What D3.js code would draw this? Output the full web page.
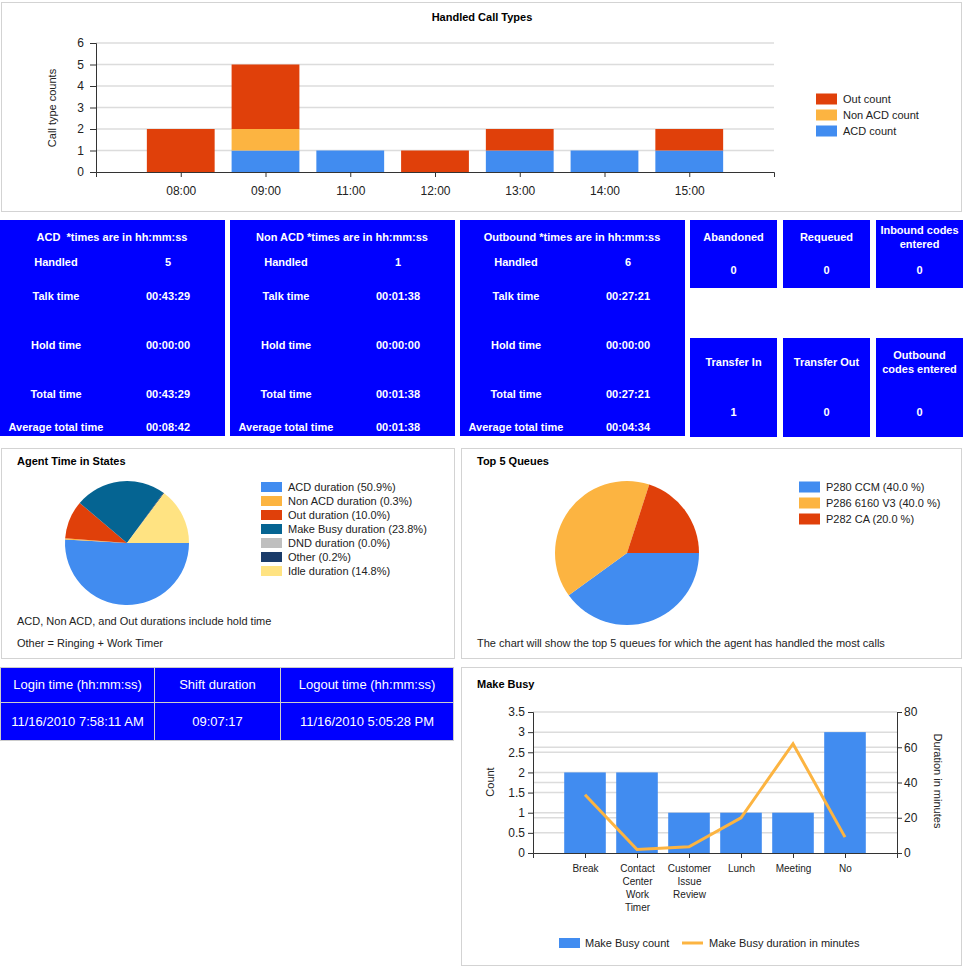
<!DOCTYPE html>
<html>
<head>
<meta charset="utf-8">
<script src="https://cdn.jsdelivr.net/npm/d3@7"></script>
<style>
    body { margin: 0; background: #fff; }
    svg { display: block; font-family: "Liberation Sans", Arial, sans-serif; }
</style>
</head>
<body>
<svg id="dash"></svg>
<script>
// handled call types (stacked)
const hours = ['08:00', '09:00', '11:00', '12:00', '13:00', '14:00', '15:00'];
const acdCount = [0, 1, 1, 0, 1, 1, 1];
const nonAcdCount = [0, 1, 0, 0, 0, 0, 0];
const outCount = [2, 3, 0, 1, 1, 0, 1];
const callTicks = [0, 1, 2, 3, 4, 5, 6];

// blue stat boxes
const statRows = ['Handled', 'Talk time', 'Hold time', 'Total time', 'Average total time'];
const statTitles = ['ACD  *times are in hh:mm:ss', 'Non ACD *times are in hh:mm:ss', 'Outbound *times are in hh:mm:ss'];
const acdStats = ['5', '00:43:29', '00:00:00', '00:43:29', '00:08:42'];
const nonAcdStats = ['1', '00:01:38', '00:00:00', '00:01:38', '00:01:38'];
const outStats = ['6', '00:27:21', '00:00:00', '00:27:21', '00:04:34'];
const tileTopNames = ['Abandoned', 'Requeued', 'Inbound codes entered'];
const tileTopValues = [0, 0, 0];
const tileBottomNames = ['Transfer In', 'Transfer Out', 'Outbound codes entered'];
const tileBottomValues = [1, 0, 0];

// agent time in states
const stateNames = ['ACD duration', 'Non ACD duration', 'Out duration', 'Make Busy duration', 'DND duration', 'Other', 'Idle duration'];
const statePct = [50.9, 0.3, 10.0, 23.8, 0.0, 0.2, 14.8];

// top 5 queues
const queueNames = ['P280 CCM', 'P286 6160 V3', 'P282 CA'];
const queuePct = [40.0, 40.0, 20.0];

// shift table
const shiftHeaders = ['Login time (hh:mm:ss)', 'Shift duration', 'Logout time (hh:mm:ss)'];
const shiftValues = ['11/16/2010 7:58:11 AM', '09:07:17', '11/16/2010 5:05:28 PM'];

// make busy
const reasons = ['Break', 'Contact Center Work Timer', 'Customer Issue Review', 'Lunch', 'Meeting', 'No'];
const busyCount = [2, 2, 1, 1, 1, 3];
const busyMinutes = [33, 2, 3.5, 20, 62, 9];
const countTicks = [0, 0.5, 1, 1.5, 2, 2.5, 3, 3.5];
const minuteTicks = [0, 20, 40, 60, 80];

const palette = ['#418CF0', '#FCB441', '#E0400A', '#056492', '#BFBFBF', '#1A3B69', '#FFE382'];
const blue = '#0000FF';

let svg = d3.select('#dash').attr('width', 964).attr('height', 966);

function panel(x, y, w, h) {
    svg.append('rect')
        .attr('x', x + 0.5).attr('y', y + 0.5)
        .attr('width', w).attr('height', h)
        .attr('fill', '#fff').attr('stroke', '#d3d3d3');
}

// split a label into lines no wider than maxW
// (text uses a central baseline, so the block is shifted up when data-center is set)
function wrap(sel, maxW) {
    sel.each(function () {
        let t = d3.select(this);
        let words = t.text().split(' ');
        let lh = +t.attr('data-lh');
        t.text(null);
        let lines = [], cur = [];
        let probe = t.append('tspan');
        words.forEach(w => {
            probe.text(cur.concat(w).join(' '));
            if (cur.length && probe.node().getComputedTextLength() > maxW) {
                lines.push(cur.join(' '));
                cur = [w];
            } else {
                cur.push(w);
            }
        });
        lines.push(cur.join(' '));
        probe.remove();
        let off = t.attr('data-center') ? -(lines.length - 1) * lh / 2 : 0;
        lines.forEach((l, i) => {
            t.append('tspan').attr('x', t.attr('x')).attr('dy', i === 0 ? off : lh).text(l);
        });
    });
}

function callTypes() {
    panel(1, 2, 960, 209);
    svg.append('text')
        .attr('x', 482).attr('y', 17).attr('dy', '0.35em')
        .attr('text-anchor', 'middle').attr('font-size', 11).attr('font-weight', 'bold')
        .text('Handled Call Types');

    let scX = d3.scalePoint().domain(hours).range([96, 774]).padding(1);
    let scY = d3.scaleLinear().domain([0, 6]).range([172, 43]);

    let g = svg.append('g');
    g.selectAll('line.grid')
        .data(callTicks.slice(1)).enter().append('line')
        .attr('x1', 96).attr('x2', 774)
        .attr('y1', d => scY(d)).attr('y2', d => scY(d))
        .attr('stroke', '#dcdcdc').attr('stroke-width', 1.5);

    let rows = hours.map((h, i) => ({hour: h, acd: acdCount[i], non: nonAcdCount[i], out: outCount[i]}));
    let keys = ['acd', 'non', 'out'];
    let colors = {acd: palette[0], non: palette[1], out: palette[2]};
    let stacked = d3.stack().keys(keys)(rows);
    let bw = scX.step() * 0.8;

    g.selectAll('g.layer')
        .data(stacked).enter().append('g')
        .attr('fill', d => colors[d.key])
        .selectAll('rect')
        .data(d => d.filter(p => p[1] > p[0])).enter().append('rect')
        .attr('x', d => scX(d.data.hour) - bw / 2)
        .attr('width', bw)
        .attr('y', d => scY(d[1]))
        .attr('height', d => scY(d[0]) - scY(d[1]));

    let ax = svg.append('g').attr('transform', 'translate(96,0)')
        .call(d3.axisLeft(scY).tickValues(callTicks).tickFormat(d3.format('d')).tickSize(6).tickPadding(6));
    let bx = svg.append('g').attr('transform', 'translate(0,172)')
        .call(d3.axisBottom(scX).tickSize(5).tickPadding(9));
    [ax, bx].forEach(a => {
        a.attr('font-family', null).attr('font-size', 12);
        a.selectAll('path,line').attr('stroke', '#333');
        a.selectAll('text').attr('fill', '#222');
    });

    svg.append('text')
        .attr('transform', 'translate(56,108) rotate(-90)')
        .attr('text-anchor', 'middle').attr('font-size', 11).attr('fill', '#222')
        .text('Call type counts');

    let legend = [['Out count', colors.out], ['Non ACD count', colors.non], ['ACD count', colors.acd]];
    let lg = svg.selectAll('g.leg1')
        .data(legend).enter().append('g')
        .attr('transform', (d, i) => `translate(816,${99 + i * 16})`);
    lg.append('rect').attr('x', 0).attr('y', -5.5).attr('width', 21).attr('height', 11).attr('fill', d => d[1]);
    lg.append('text').attr('x', 27).attr('dy', '0.35em').attr('font-size', 11).attr('fill', '#222').text(d => d[0]);
}

function statBoxes() {
    let sets = [acdStats, nonAcdStats, outStats];
    let boxX = [0, 230, 460];
    let rowY = [262, 296, 345, 394, 427];

    sets.forEach((vals, k) => {
        let g = svg.append('g').attr('transform', `translate(${boxX[k]},220)`)
            .attr('fill', '#fff').attr('font-size', 11).attr('font-weight', 'bold')
            .attr('text-anchor', 'middle');
        g.append('rect').attr('width', 225).attr('height', 216).attr('fill', blue);
        g.append('text').attr('x', 112).attr('y', 17).attr('dy', '0.35em')
            .style('white-space', 'pre')
            .text(statTitles[k]);
        g.selectAll('text.lab')
            .data(statRows).enter().append('text')
            .attr('x', 56).attr('y', (d, i) => rowY[i] - 220).attr('dy', '0.35em')
            .text(d => d);
        g.selectAll('text.val')
            .data(vals).enter().append('text')
            .attr('x', 168).attr('y', (d, i) => rowY[i] - 220).attr('dy', '0.35em')
            .text(d => d);
    });

    let tileX = [690, 783, 876];
    function tiles(names, values, y, h, titleY, valueY) {
        names.forEach((name, i) => {
            let g = svg.append('g').attr('transform', `translate(${tileX[i]},${y})`)
                .attr('fill', '#fff').attr('font-size', 11).attr('font-weight', 'bold')
                .attr('text-anchor', 'middle');
            g.append('rect').attr('width', 87).attr('height', h).attr('fill', blue);
            g.append('text')
                .attr('x', 43.5).attr('y', titleY)
                .attr('dominant-baseline', 'central')
                .attr('data-lh', 14).attr('data-center', 1)
                .text(name)
                .call(wrap, 82);
            g.append('text')
                .attr('x', 43.5).attr('y', valueY).attr('dy', '0.35em')
                .text(values[i]);
        });
    }
    tiles(tileTopNames, tileTopValues, 220, 68, 17, 50);
    tiles(tileBottomNames, tileBottomValues, 338, 99, 24, 74);
}

function pieChart(opts) {
    panel(opts.box[0], opts.box[1], opts.box[2], opts.box[3]);
    svg.append('text')
        .attr('x', opts.box[0] + 16).attr('y', opts.box[1] + 13).attr('dy', '0.35em')
        .attr('font-size', 11).attr('font-weight', 'bold')
        .text(opts.title);

    let pie = d3.pie().sort(null).value(d => d)
        .startAngle(Math.PI / 2).endAngle(Math.PI / 2 + 2 * Math.PI);
    let arc = d3.arc().innerRadius(0).outerRadius(opts.r);

    svg.append('g').attr('transform', `translate(${opts.cx},${opts.cy})`)
        .selectAll('path')
        .data(pie(opts.values)).enter().append('path')
        .attr('d', arc)
        .attr('fill', (d, i) => opts.colors[i]);

    let lg = svg.selectAll('g.leg-' + opts.id)
        .data(opts.names).enter().append('g')
        .attr('transform', (d, i) => `translate(${opts.lx},${opts.ly + i * opts.step})`);
    lg.append('rect').attr('y', -opts.sh / 2).attr('width', 21).attr('height', opts.sh)
        .attr('fill', (d, i) => opts.colors[i]);
    lg.append('text').attr('x', 27).attr('dy', '0.35em').attr('font-size', 11).attr('fill', '#222')
        .text((d, i) => opts.label(d, opts.values[i]));

    opts.notes.forEach(n => {
        svg.append('text')
            .attr('x', opts.box[0] + 16).attr('y', n[1]).attr('dy', '0.35em')
            .attr('font-size', 11).attr('fill', '#222')
            .text(n[0]);
    });
}

function shiftTable() {
    let colX = [0, 154, 280, 453];
    let g = svg.append('g').attr('font-size', 13).attr('fill', '#fff').attr('text-anchor', 'middle');
    [shiftHeaders, shiftValues].forEach((row, r) => {
        let y = r === 0 ? 667 : 702;
        let h = r === 0 ? 35 : 38;
        row.forEach((txt, c) => {
            g.append('rect')
                .attr('x', colX[c] + 0.5).attr('y', y + 0.5)
                .attr('width', colX[c + 1] - colX[c]).attr('height', h)
                .attr('fill', blue).attr('stroke', '#ccc');
            g.append('text')
                .attr('x', (colX[c] + colX[c + 1]) / 2 + 0.5).attr('y', y + h / 2).attr('dy', '0.35em')
                .text(txt);
        });
    });
}

function makeBusy() {
    panel(461, 667, 500, 298);
    svg.append('text')
        .attr('x', 477).attr('y', 684).attr('dy', '0.35em')
        .attr('font-size', 11).attr('font-weight', 'bold')
        .text('Make Busy');

    let scX = d3.scalePoint().domain(reasons).range([533, 897]).padding(1);
    let scY = d3.scaleLinear().domain([0, 3.5]).range([853, 712]);
    let scR = d3.scaleLinear().domain([0, 80]).range([853, 712]);

    let grid = countTicks.slice(1).map(scY).concat(minuteTicks.slice(1, 4).map(scR));
    svg.selectAll('line.mbgrid')
        .data(grid).enter().append('line')
        .attr('x1', 533).attr('x2', 897)
        .attr('y1', d => d).attr('y2', d => d)
        .attr('stroke', '#dcdcdc').attr('stroke-width', 1.5);

    let bw = scX.step() * 0.8;
    svg.selectAll('rect.mb')
        .data(busyCount).enter().append('rect')
        .attr('x', (d, i) => scX(reasons[i]) - bw / 2)
        .attr('width', bw)
        .attr('y', d => scY(d))
        .attr('height', d => scY(0) - scY(d))
        .attr('fill', palette[0]);

    let line = d3.line()
        .x((d, i) => scX(reasons[i]))
        .y(d => scR(d));
    svg.append('path')
        .attr('d', line(busyMinutes))
        .attr('fill', 'none').attr('stroke', palette[1]).attr('stroke-width', 3);

    let la = svg.append('g').attr('transform', 'translate(533,0)')
        .call(d3.axisLeft(scY).tickValues(countTicks).tickFormat(d3.format('~g')).tickSize(5).tickPadding(3));
    let ra = svg.append('g').attr('transform', 'translate(897,0)')
        .call(d3.axisRight(scR).tickValues(minuteTicks).tickSize(5).tickPadding(2));
    let ba = svg.append('g').attr('transform', 'translate(0,853)')
        .call(d3.axisBottom(scX).tickSize(5).tickPadding(6));
    [la, ra, ba].forEach(a => {
        a.attr('font-family', null).attr('font-size', 12);
        a.selectAll('path,line').attr('stroke', '#333');
        a.selectAll('text').attr('fill', '#222');
    });
    ba.attr('font-size', 10);
    ba.selectAll('.tick text')
        .attr('x', 0).attr('y', 15).attr('dy', null)
        .attr('dominant-baseline', 'central')
        .attr('data-lh', 13)
        .call(wrap, 46);

    svg.append('text')
        .attr('transform', 'translate(494,782) rotate(-90)')
        .attr('text-anchor', 'middle').attr('font-size', 11).attr('fill', '#222')
        .text('Count');
    svg.append('text')
        .attr('transform', 'translate(934,781) rotate(90)')
        .attr('text-anchor', 'middle').attr('font-size', 11).attr('fill', '#222')
        .text('Duration in minutes');

    let lg = svg.append('g').attr('font-size', 11).attr('fill', '#222');
    lg.append('rect').attr('x', 559).attr('y', 938).attr('width', 21).attr('height', 10).attr('fill', palette[0]);
    lg.append('text').attr('x', 585).attr('y', 943).attr('dy', '0.35em').text('Make Busy count');
    lg.append('line').attr('x1', 682).attr('x2', 703).attr('y1', 943).attr('y2', 943)
        .attr('stroke', palette[1]).attr('stroke-width', 3);
    lg.append('text').attr('x', 709).attr('y', 943).attr('dy', '0.35em').text('Make Busy duration in minutes');
}

callTypes();
statBoxes();
pieChart({
    id: 'states', title: 'Agent Time in States',
    box: [1, 448, 453, 210],
    cx: 127, cy: 543, r: 62,
    names: stateNames, values: statePct, colors: palette,
    lx: 261, ly: 487, step: 14, sh: 10,
    label: (n, v) => `${n} (${v.toFixed(1)}%)`,
    notes: [['ACD, Non ACD, and Out durations include hold time', 621], ['Other = Ringing + Work Timer', 643]]
});
pieChart({
    id: 'queues', title: 'Top 5 Queues',
    box: [461, 448, 500, 210],
    cx: 627, cy: 553, r: 72,
    names: queueNames, values: queuePct, colors: palette,
    lx: 799, ly: 487, step: 16, sh: 11,
    label: (n, v) => `${n} (${v.toFixed(1)} %)`,
    notes: [['The chart will show the top 5 queues for which the agent has handled the most calls', 643]]
});
shiftTable();
makeBusy();
</script>
</body>
</html>
